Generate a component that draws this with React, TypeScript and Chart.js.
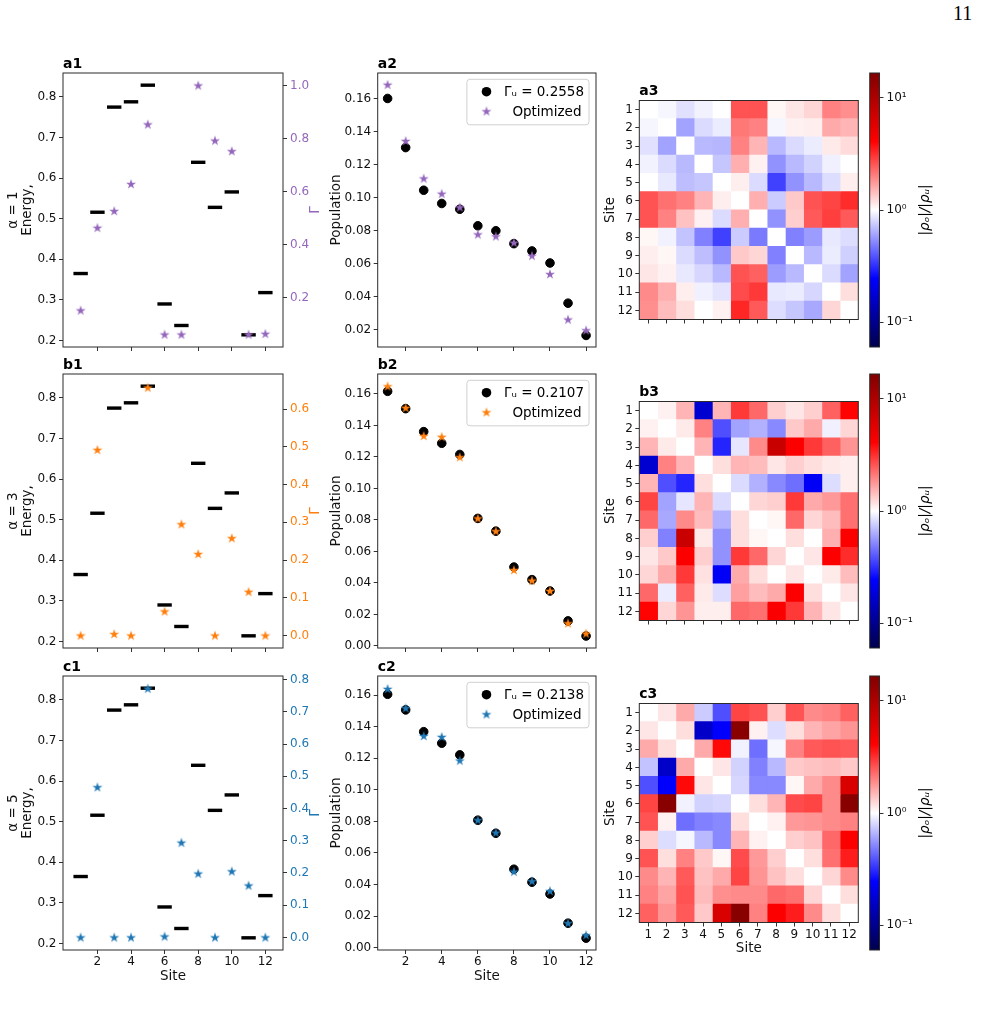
import React, { useEffect, useRef } from "react";
import { Chart, registerables } from "chart.js";

Chart.register(...registerables);

const FONT = "'DejaVu Sans', 'Noto Sans', sans-serif";
Chart.defaults.font.family = FONT;
Chart.defaults.color = "#111";

// ---------------- data ----------------
const sites = [1, 2, 3, 4, 5, 6, 7, 8, 9, 10, 11, 12];
const siteLabels = sites.map(String);
const rowNames = ["a", "b", "c"];
const alphas = [1, 3, 5];
const seriesColors = ["#9467bd", "#ff7f0e", "#1f77b4"];

const energies = [0.365, 0.516, 0.775, 0.788, 0.829, 0.29, 0.237, 0.639, 0.528, 0.566, 0.214, 0.318];

const gammaA = [0.151, 0.463, 0.526, 0.628, 0.853, 0.06, 0.06, 1.0, 0.792, 0.752, 0.06, 0.063];
const gammaB = [0.0, 0.492, 0.004, 0.0, 0.657, 0.064, 0.295, 0.216, 0.0, 0.258, 0.116, 0.0];
const gammaC = [0.0, 0.466, 0.0, 0.0, 0.772, 0.003, 0.294, 0.198, 0.0, 0.205, 0.161, 0.0];

const popUniformA = [0.16, 0.1303, 0.1045, 0.0965, 0.093, 0.083, 0.08, 0.0722, 0.0678, 0.0605, 0.0362, 0.0167];
const popOptA = [0.1683, 0.1343, 0.1116, 0.1024, 0.0942, 0.0778, 0.0766, 0.0728, 0.0649, 0.0538, 0.0263, 0.0198];
const popUniformB = [0.1617, 0.1507, 0.1361, 0.1287, 0.1216, 0.081, 0.0729, 0.0501, 0.0421, 0.0349, 0.0159, 0.0063];
const popOptB = [0.1649, 0.1512, 0.1334, 0.1328, 0.1199, 0.081, 0.0729, 0.0482, 0.0415, 0.035, 0.0144, 0.0079];
const popUniformC = [0.1606, 0.1507, 0.1369, 0.1296, 0.1222, 0.0808, 0.0725, 0.0497, 0.0415, 0.034, 0.0155, 0.006];
const popOptC = [0.164, 0.1518, 0.1342, 0.1336, 0.1186, 0.0808, 0.0729, 0.0482, 0.0421, 0.0359, 0.0155, 0.0079];

const gammaUniform = ["0.2558", "0.2107", "0.2138"];

const ratioA = [
  [1.0, 0.95, 0.85, 0.93, 1.0, 2.6, 2.6, 1.05, 1.15, 1.25, 2.0, 1.85],
  [0.95, 1.0, 0.6, 0.82, 0.9, 2.1, 2.0, 0.95, 1.08, 1.1, 1.6, 1.5],
  [0.85, 0.6, 1.0, 0.68, 0.67, 2.0, 1.5, 0.68, 0.82, 0.9, 1.12, 1.22],
  [0.93, 0.82, 0.68, 1.0, 0.73, 1.55, 1.08, 0.55, 0.68, 0.78, 0.92, 1.0],
  [1.0, 0.88, 0.7, 0.73, 1.0, 1.1, 0.82, 0.35, 0.55, 0.68, 0.83, 1.1],
  [2.6, 2.2, 2.0, 1.5, 1.1, 1.0, 1.55, 0.75, 1.35, 2.6, 2.8, 3.2],
  [2.6, 2.0, 1.4, 1.08, 0.82, 1.55, 1.0, 0.55, 1.3, 2.5, 2.9, 2.5],
  [1.05, 0.93, 0.72, 0.5, 0.35, 0.75, 0.48, 1.0, 0.5, 0.58, 0.88, 0.83],
  [1.1, 1.05, 0.82, 0.7, 0.55, 1.35, 1.25, 0.5, 1.0, 0.68, 0.9, 0.77],
  [1.15, 1.08, 0.88, 0.8, 0.68, 2.6, 2.4, 0.58, 0.68, 1.0, 0.82, 0.6],
  [1.9, 1.55, 1.1, 0.92, 0.86, 2.7, 3.0, 0.88, 0.9, 0.8, 1.0, 1.2],
  [1.85, 1.45, 1.2, 1.0, 1.08, 3.3, 2.5, 0.83, 0.73, 0.62, 1.25, 1.0],
];

const ratioB = [
  [1.0, 1.08, 1.5, 0.17, 1.5, 3.0, 2.3, 1.3, 1.15, 1.3, 2.4, 4.0],
  [1.08, 1.0, 1.12, 2.0, 0.38, 0.6, 0.65, 0.52, 1.35, 1.6, 0.92, 1.25],
  [1.5, 1.12, 1.0, 1.5, 0.3, 0.87, 1.9, 7.5, 4.2, 3.0, 2.4, 1.8],
  [0.17, 2.0, 1.5, 1.0, 1.2, 1.5, 1.45, 1.15, 1.3, 1.2, 1.12, 1.1],
  [1.5, 0.38, 0.3, 1.2, 1.0, 0.82, 0.65, 0.52, 0.45, 0.23, 0.83, 1.1],
  [2.8, 0.6, 0.87, 1.5, 0.82, 1.0, 1.25, 1.3, 3.0, 1.6, 1.75, 2.2],
  [2.3, 0.62, 1.9, 1.45, 0.65, 1.2, 1.0, 1.05, 2.3, 1.25, 1.45, 2.2],
  [1.3, 0.5, 7.5, 1.12, 0.55, 1.2, 1.05, 1.0, 1.2, 1.0, 1.55, 4.2],
  [1.15, 1.35, 4.2, 1.3, 0.55, 3.0, 2.3, 1.25, 1.0, 1.15, 4.2, 3.2],
  [1.25, 1.6, 3.0, 1.18, 0.23, 1.6, 1.2, 1.0, 1.15, 1.0, 1.12, 1.45],
  [2.3, 0.9, 2.4, 1.12, 0.83, 1.7, 1.45, 1.6, 4.2, 1.2, 1.0, 1.15],
  [4.0, 1.25, 1.8, 1.1, 1.1, 2.3, 2.2, 4.3, 3.0, 1.5, 1.15, 1.0],
];

const ratioC = [
  [1.0, 1.15, 1.6, 0.75, 0.38, 2.8, 2.6, 1.3, 2.6, 1.9, 2.0, 2.4],
  [1.15, 1.0, 1.2, 0.16, 0.24, 15, 1.08, 0.83, 1.2, 1.5, 1.65, 1.8],
  [1.6, 1.2, 1.0, 1.6, 3.9, 0.93, 0.45, 0.95, 2.0, 2.5, 2.6, 2.5],
  [0.72, 0.16, 1.6, 1.0, 1.15, 0.78, 0.5, 0.68, 1.35, 1.4, 1.45, 1.35],
  [0.38, 0.24, 3.9, 1.15, 1.0, 0.8, 0.52, 0.52, 1.05, 1.6, 1.9, 6.2],
  [2.8, 15, 0.93, 0.78, 0.8, 1.0, 1.2, 1.5, 2.7, 2.8, 1.9, 15],
  [2.6, 1.08, 0.45, 0.5, 0.52, 1.2, 1.0, 1.08, 1.75, 1.8, 1.9, 2.0],
  [1.3, 0.83, 0.95, 0.68, 0.52, 1.5, 1.08, 1.0, 1.3, 1.4, 2.3, 4.2],
  [2.6, 1.2, 2.0, 1.35, 1.05, 2.7, 1.75, 1.3, 1.0, 1.2, 2.2, 3.5],
  [1.9, 1.5, 2.5, 1.4, 1.6, 2.8, 1.8, 1.4, 1.2, 1.0, 1.25, 1.9],
  [2.0, 1.65, 2.6, 1.45, 1.85, 1.9, 1.9, 2.3, 2.2, 1.25, 1.0, 1.2],
  [2.4, 1.8, 2.5, 1.35, 6.2, 15, 2.0, 4.2, 3.5, 1.9, 1.2, 1.0],
];

const gammas = [gammaA, gammaB, gammaC];
const popUniform = [popUniformA, popUniformB, popUniformC];
const popOpt = [popOptA, popOptB, popOptC];
const ratios = [ratioA, ratioB, ratioC];

// axis ranges / ticks
const energyRange = [0.184, 0.859];
const energyTicks = [0.2, 0.3, 0.4, 0.5, 0.6, 0.7, 0.8];
const gammaRanges = [[0.013, 1.047], [-0.033, 0.693], [-0.039, 0.811]];
const gammaTicks = [
  [0.2, 0.4, 0.6, 0.8, 1.0],
  [0.0, 0.1, 0.2, 0.3, 0.4, 0.5, 0.6],
  [0.0, 0.1, 0.2, 0.3, 0.4, 0.5, 0.6, 0.7, 0.8],
];
const popRanges = [[0.0097, 0.1754], [-0.0013, 0.1727], [-0.0015, 0.1722]];
const popTicks = [
  [0.02, 0.04, 0.06, 0.08, 0.1, 0.12, 0.14, 0.16],
  [0.0, 0.02, 0.04, 0.06, 0.08, 0.1, 0.12, 0.14, 0.16],
  [0.0, 0.02, 0.04, 0.06, 0.08, 0.1, 0.12, 0.14, 0.16],
];
const siteTicksEven = [2, 4, 6, 8, 10, 12];
const cbLogMax = 1.22;
const cbTickValues = [0.1, 1, 10];
const cbTickLabels = ["10⁻¹", "10⁰", "10¹"];

// ---------------- geometry ----------------
const ROW_TOP = [73, 374, 676];
const PLOT_H = 274;
const PAD_T = 30;
const PAD_B = 50;
const CANVAS_H = PLOT_H + PAD_T + PAD_B;
const HEAT = 219;
const HEAT_OFF = (PLOT_H - HEAT) / 2;

const TICK_FONT = { family: FONT, size: 12 };
const LABEL_FONT = { family: FONT, size: 13.5 };

// ---------------- helpers ----------------
function makeStar(color: string, r: number): HTMLCanvasElement {
  const size = Math.ceil(r * 2 + 3);
  const c = document.createElement("canvas");
  c.width = size;
  c.height = size;
  const ctx = c.getContext("2d")!;
  const cx = size / 2;
  const cy = size / 2 + 0.3;
  ctx.beginPath();
  for (let i = 0; i < 10; i++) {
    const rad = i % 2 === 0 ? r : r * 0.382;
    const a = -Math.PI / 2 + (i * Math.PI) / 5;
    const px = cx + rad * Math.cos(a);
    const py = cy + rad * Math.sin(a);
    if (i === 0) ctx.moveTo(px, py);
    else ctx.lineTo(px, py);
  }
  ctx.closePath();
  ctx.fillStyle = color;
  ctx.fill();
  return c;
}

const seismicStops: [number, number[]][] = [
  [0, [0, 0, 0.3]],
  [0.25, [0, 0, 1]],
  [0.5, [1, 1, 1]],
  [0.75, [1, 0, 0]],
  [1, [0.5, 0, 0]],
];
function rgb(c: number[]) {
  return `rgb(${Math.round(c[0] * 255)},${Math.round(c[1] * 255)},${Math.round(c[2] * 255)})`;
}
function seismic(t: number): string {
  t = Math.max(0, Math.min(1, t));
  for (let i = 0; i < seismicStops.length - 1; i++) {
    const [t0, c0] = seismicStops[i];
    const [t1, c1] = seismicStops[i + 1];
    if (t <= t1) {
      const f = (t - t0) / (t1 - t0);
      return rgb([0, 1, 2].map((k) => c0[k] + f * (c1[k] - c0[k])));
    }
  }
  return rgb(seismicStops[seismicStops.length - 1][1]);
}
function ratioColor(v: number) {
  return seismic((Math.log10(v) + cbLogMax) / (2 * cbLogMax));
}

function fixedTicks(values: number[]) {
  return (scale: any) => {
    scale.ticks = values.map((v) => ({ value: v }));
  };
}

// ---------------- plugins ----------------
const framePlugin = {
  id: "frame",
  afterDatasetsDraw(chart: any) {
    const a = chart.chartArea;
    const ctx = chart.ctx;
    ctx.save();
    ctx.strokeStyle = "#2b2b2b";
    ctx.lineWidth = 1;
    ctx.strokeRect(a.left, a.top, a.right - a.left, a.bottom - a.top);
    ctx.restore();
  },
};

const panelLabelPlugin = {
  id: "panelLabel",
  afterDraw(chart: any, _args: any, opts: any) {
    if (!opts || !opts.text) return;
    const a = chart.chartArea;
    const ctx = chart.ctx;
    ctx.save();
    ctx.font = `bold 14px ${FONT}`;
    ctx.fillStyle = "#000";
    ctx.textAlign = "left";
    ctx.textBaseline = "alphabetic";
    ctx.fillText(opts.text, a.left, a.top - opts.dy);
    ctx.restore();
  },
};

const sideTitlePlugin = {
  id: "sideTitle",
  afterDraw(chart: any, _args: any, opts: any) {
    if (!opts || !opts.text) return;
    const a = chart.chartArea;
    const ctx = chart.ctx;
    ctx.save();
    ctx.translate(a.right + opts.dx, (a.top + a.bottom) / 2);
    ctx.rotate(-Math.PI / 2);
    ctx.font = `${opts.italic ? "italic " : ""}13.5px ${FONT}`;
    ctx.fillStyle = opts.color || "#000";
    ctx.textAlign = "center";
    ctx.textBaseline = "middle";
    ctx.fillText(opts.text, 0, 0);
    ctx.restore();
  },
};

const boxLegendPlugin = {
  id: "boxLegend",
  afterDraw(chart: any, _args: any, opts: any) {
    if (!opts || !opts.items) return;
    const a = chart.chartArea;
    const ctx = chart.ctx;
    ctx.save();
    ctx.font = `13.5px ${FONT}`;
    const w = Math.max(...opts.items.map((it: any) => ctx.measureText(it.label).width + it.textX)) + 5;
    const h = 45.5;
    const x = a.right - 7 - w;
    const y = a.top + 6.3;
    const r = 3;
    ctx.beginPath();
    ctx.moveTo(x + r, y);
    ctx.lineTo(x + w - r, y);
    ctx.arcTo(x + w, y, x + w, y + r, r);
    ctx.lineTo(x + w, y + h - r);
    ctx.arcTo(x + w, y + h, x + w - r, y + h, r);
    ctx.lineTo(x + r, y + h);
    ctx.arcTo(x, y + h, x, y + h - r, r);
    ctx.lineTo(x, y + r);
    ctx.arcTo(x, y, x + r, y, r);
    ctx.closePath();
    ctx.fillStyle = "rgba(255,255,255,0.8)";
    ctx.fill();
    ctx.strokeStyle = "#d0d0d0";
    ctx.lineWidth = 1;
    ctx.stroke();
    opts.items.forEach((it: any, i: number) => {
      const cy = y + 12.4 + i * 19.6;
      const mx = x + 19.6;
      if (it.marker === "circle") {
        ctx.beginPath();
        ctx.arc(mx, cy, 4.8, 0, Math.PI * 2);
        ctx.fillStyle = it.color;
        ctx.fill();
      } else {
        const img = it.marker as HTMLCanvasElement;
        ctx.drawImage(img, mx - img.width / 2, cy - img.height / 2);
      }
      ctx.fillStyle = "#000";
      ctx.textAlign = "left";
      ctx.textBaseline = "middle";
      ctx.fillText(it.label, x + it.textX, cy + 1);
    });
    ctx.restore();
  },
};

const commonOptions = {
  animation: false as const,
  responsive: false,
  events: [] as any[],
};

function tickGrid() {
  return {
    display: true,
    drawOnChartArea: false,
    drawTicks: true,
    tickLength: 4,
    tickColor: "#333",
    tickWidth: 1,
    color: "rgba(0,0,0,0)",
  };
}

// ---------------- config builders ----------------
function energyConfig(r: number) {
  const star = makeStar(seriesColors[r], 5.2);
  const showX = r === 2;
  return {
    type: "scatter",
    data: {
      datasets: [
        {
          label: "Energy",
          data: sites.map((s, i) => ({ x: s, y: energies[i] })),
          yAxisID: "y",
          pointStyle: "line",
          pointRadius: 7.2,
          pointBorderWidth: 3.4,
          pointBorderColor: "#000",
          borderColor: "#000",
          backgroundColor: "#000",
          order: 1,
        },
        {
          label: "Γ",
          data: sites.map((s, i) => ({ x: s, y: gammas[r][i] })),
          yAxisID: "y1",
          pointStyle: star,
          order: 0,
        },
      ],
    },
    options: {
      ...commonOptions,
      layout: { padding: { top: PAD_T, left: 0, right: 0, bottom: 0 } },
      plugins: {
        legend: { display: false },
        tooltip: { enabled: false },
        panelLabel: { text: `${rowNames[r]}1`, dy: 5 },
        sideTitle: { text: "Γ", dx: 32, color: seriesColors[r] },
      },
      scales: {
        x: {
          type: "linear",
          position: "bottom",
          min: -0.05,
          max: 13.05,
          afterBuildTicks: fixedTicks(siteTicksEven),
          ticks: {
            autoSkip: false,
            maxRotation: 0,
            font: TICK_FONT,
            padding: 1,
            callback: (v: any) => (showX ? String(v) : ""),
          },
          grid: tickGrid(),
          border: { display: false },
          title: { display: showX, text: "Site", font: LABEL_FONT, padding: { top: 0, bottom: 15 } },
          afterFit: (s: any) => {
            s.height = PAD_B;
          },
        },
        y: {
          type: "linear",
          position: "left",
          min: energyRange[0],
          max: energyRange[1],
          afterBuildTicks: fixedTicks(energyTicks),
          ticks: { font: TICK_FONT, padding: 2.5, callback: (v: any) => Number(v).toFixed(1) },
          grid: tickGrid(),
          border: { display: false },
          title: {
            display: true,
            text: [`α = ${alphas[r]}`, "Energy,"],
            font: { family: FONT, size: 13.5, lineHeight: 1.05 },
            padding: { top: 6.2, bottom: 0 },
          },
          afterFit: (s: any) => {
            s.width = 63;
          },
        },
        y1: {
          type: "linear",
          position: "right",
          min: gammaRanges[r][0],
          max: gammaRanges[r][1],
          afterBuildTicks: fixedTicks(gammaTicks[r]),
          ticks: {
            font: TICK_FONT,
            padding: 3,
            color: seriesColors[r],
            callback: (v: any) => Number(v).toFixed(1),
          },
          grid: tickGrid(),
          border: { display: false },
          afterFit: (s: any) => {
            s.width = 345 - 283;
          },
        },
      },
    },
    plugins: [framePlugin, panelLabelPlugin, sideTitlePlugin],
  };
}

function popConfig(r: number) {
  const star = makeStar(seriesColors[r], 5.2);
  const showX = r === 2;
  return {
    type: "scatter",
    data: {
      datasets: [
        {
          label: `Γᵤ = ${gammaUniform[r]}`,
          data: sites.map((s, i) => ({ x: s, y: popUniform[r][i] })),
          pointStyle: "circle",
          pointRadius: 4.3,
          pointBorderWidth: 1,
          pointBorderColor: "#000",
          backgroundColor: "#000",
          borderColor: "#000",
          order: 1,
        },
        {
          label: "Optimized",
          data: sites.map((s, i) => ({ x: s, y: popOpt[r][i] })),
          pointStyle: star,
          order: 0,
        },
      ],
    },
    options: {
      ...commonOptions,
      layout: { padding: { top: PAD_T, left: 0, right: 9, bottom: 0 } },
      plugins: {
        legend: { display: false },
        tooltip: { enabled: false },
        panelLabel: { text: `${rowNames[r]}2`, dy: 5 },
        boxLegend: {
          items: [
            { label: `Γᵤ = ${gammaUniform[r]}`, marker: "circle", color: "#000", textX: 37 },
            { label: "Optimized", marker: star, color: seriesColors[r], textX: 45.5 },
          ],
        },
      },
      scales: {
        x: {
          type: "linear",
          position: "bottom",
          min: 0.45,
          max: 12.55,
          afterBuildTicks: fixedTicks(siteTicksEven),
          ticks: {
            autoSkip: false,
            maxRotation: 0,
            font: TICK_FONT,
            padding: 1,
            callback: (v: any) => (showX ? String(v) : ""),
          },
          grid: tickGrid(),
          border: { display: false },
          title: { display: showX, text: "Site", font: LABEL_FONT, padding: { top: 0, bottom: 15 } },
          afterFit: (s: any) => {
            s.height = PAD_B;
          },
        },
        y: {
          type: "linear",
          position: "left",
          min: popRanges[r][0],
          max: popRanges[r][1],
          afterBuildTicks: fixedTicks(popTicks[r]),
          ticks: { font: TICK_FONT, padding: 2.5, callback: (v: any) => Number(v).toFixed(2) },
          grid: tickGrid(),
          border: { display: false },
          title: {
            display: true,
            text: "Population",
            font: LABEL_FONT,
            padding: { top: 10.6, bottom: 0 },
          },
          afterFit: (s: any) => {
            s.width = 377.7 - 318;
          },
        },
      },
    },
    plugins: [framePlugin, panelLabelPlugin, boxLegendPlugin],
  };
}

function heatConfig(r: number) {
  const showX = r === 2;
  const m = ratios[r];
  return {
    type: "bar",
    data: {
      labels: siteLabels,
      datasets: sites.map((c, j) => ({
        label: `col ${c}`,
        data: sites.map(() => [c - 0.5, c + 0.5]),
        backgroundColor: m.map((row) => ratioColor(row[j])),
        borderWidth: 0,
        barPercentage: 1,
        categoryPercentage: 1,
        grouped: false,
        inflateAmount: 0.4,
      })),
    },
    options: {
      ...commonOptions,
      indexAxis: "y",
      layout: { padding: { top: PAD_T + HEAT_OFF, left: 0, right: 865 - 858.3, bottom: 0 } },
      plugins: {
        legend: { display: false },
        tooltip: { enabled: false },
        panelLabel: { text: `${rowNames[r]}3`, dy: 5.5 },
      },
      scales: {
        x: {
          type: "linear",
          position: "bottom",
          min: 0.5,
          max: 12.5,
          afterBuildTicks: fixedTicks(sites),
          ticks: {
            autoSkip: false,
            maxRotation: 0,
            font: TICK_FONT,
            padding: 1,
            callback: (v: any) => (showX ? String(v) : ""),
          },
          grid: tickGrid(),
          border: { display: false },
          title: { display: showX, text: "Site", font: LABEL_FONT, padding: { top: 0, bottom: 43.5 } },
          afterFit: (s: any) => {
            s.height = CANVAS_H - (PAD_T + HEAT_OFF) - HEAT;
          },
        },
        y: {
          type: "category",
          position: "left",
          ticks: { autoSkip: false, font: TICK_FONT, padding: 2.5 },
          grid: { ...tickGrid(), offset: false },
          border: { display: false },
          title: { display: true, text: "Site", font: LABEL_FONT, padding: { top: 11.9, bottom: 0 } },
          afterFit: (s: any) => {
            s.width = 639.3 - 590;
          },
        },
      },
    },
    plugins: [framePlugin, panelLabelPlugin],
  };
}

function colorbarConfig() {
  const vmax = Math.pow(10, cbLogMax);
  const vmin = 1 / vmax;
  return {
    type: "bar",
    data: {
      labels: ["cb"],
      datasets: [
        {
          label: "colorbar",
          data: [[vmin, vmax]],
          backgroundColor: (ctx: any) => {
            const a = ctx.chart.chartArea;
            if (!a) return "#fff";
            const g = ctx.chart.ctx.createLinearGradient(0, a.bottom, 0, a.top);
            seismicStops.forEach(([t, c]) => g.addColorStop(t, rgb(c)));
            return g;
          },
          borderWidth: 0,
          barPercentage: 1,
          categoryPercentage: 1,
          inflateAmount: 0,
        },
      ],
    },
    options: {
      ...commonOptions,
      layout: { padding: { top: PAD_T, left: 869.7 - 865, right: 0, bottom: PAD_B } },
      plugins: {
        legend: { display: false },
        tooltip: { enabled: false },
        sideTitle: { text: "|ρₒ|/|ρᵤ|", dx: 45.5, color: "#000", italic: true },
      },
      scales: {
        x: { display: false },
        y: {
          type: "logarithmic",
          position: "right",
          min: vmin,
          max: vmax,
          afterBuildTicks: fixedTicks(cbTickValues),
          ticks: {
            font: TICK_FONT,
            padding: 3,
            callback: (v: any) => cbTickLabels[Math.round(Math.log10(Number(v))) + 1],
          },
          grid: tickGrid(),
          border: { display: false },
          afterFit: (s: any) => {
            s.width = 982 - 879.5;
          },
        },
      },
    },
    plugins: [framePlugin, sideTitlePlugin],
  };
}

// ---------------- components ----------------
function ChartCanvas(props: { left: number; top: number; width: number; height: number; build: () => any }) {
  const ref = useRef<HTMLCanvasElement>(null);
  useEffect(() => {
    const chart = new Chart(ref.current as HTMLCanvasElement, props.build());
    return () => chart.destroy();
  }, []);
  return (
    <canvas
      ref={ref}
      width={props.width}
      height={props.height}
      style={{ position: "absolute", left: props.left, top: props.top, width: props.width, height: props.height }}
    />
  );
}

export default function App() {
  return (
    <div style={{ position: "absolute", left: 0, top: 0, width: 982, height: 1011, background: "#fff", overflow: "hidden" }}>
      <div
        style={{
          position: "absolute",
          left: 953,
          top: 2,
          fontFamily: "'Liberation Serif', 'DejaVu Serif', serif",
          fontSize: 20,
          color: "#000",
        }}
      >
        11
      </div>
      {[0, 1, 2].map((r) => (
        <React.Fragment key={r}>
          <ChartCanvas left={0} top={ROW_TOP[r] - PAD_T} width={345} height={CANVAS_H} build={() => energyConfig(r)} />
          <ChartCanvas left={318} top={ROW_TOP[r] - PAD_T} width={287} height={CANVAS_H} build={() => popConfig(r)} />
          <ChartCanvas left={590} top={ROW_TOP[r] - PAD_T} width={275} height={CANVAS_H} build={() => heatConfig(r)} />
          <ChartCanvas left={865} top={ROW_TOP[r] - PAD_T} width={117} height={CANVAS_H} build={() => colorbarConfig()} />
        </React.Fragment>
      ))}
    </div>
  );
}
